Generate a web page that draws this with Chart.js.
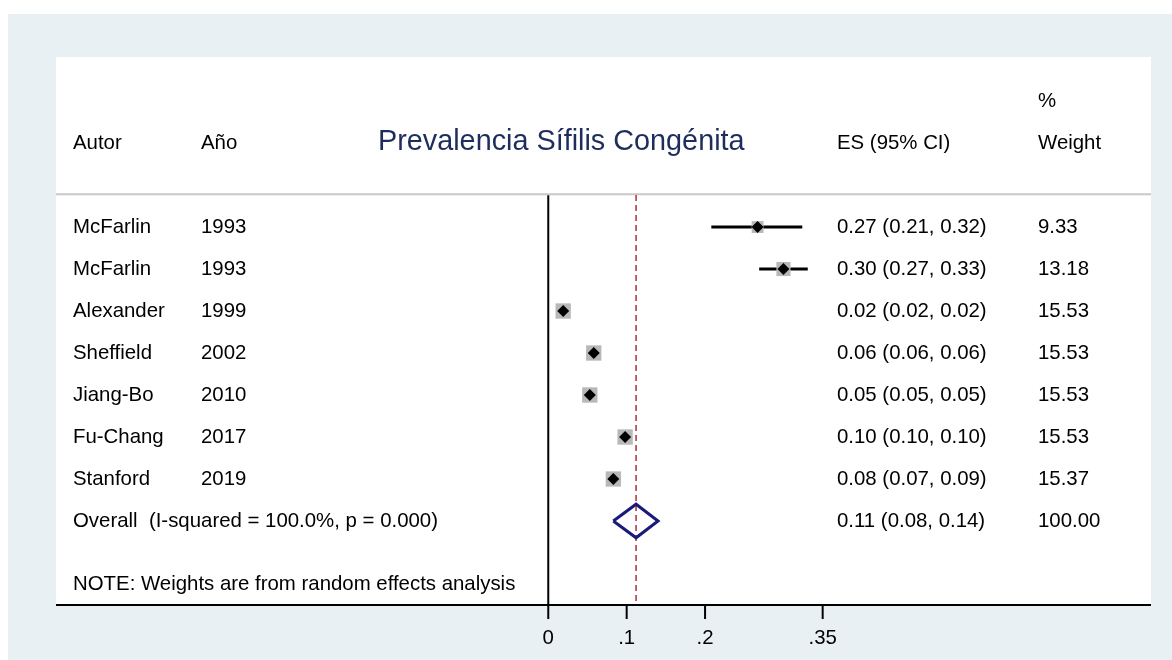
<!DOCTYPE html>
<html>
<head>
<meta charset="utf-8">
<script src="https://cdn.jsdelivr.net/npm/chart.js@4"></script>
<style>
  html, body { margin: 0; padding: 0; background: #ffffff; }
  canvas { display: block; }
</style>
</head>
<body>
<canvas id="forest" width="1172" height="660"></canvas>
<script>
// dati dello studio
const authors = ['McFarlin', 'McFarlin', 'Alexander', 'Sheffield', 'Jiang-Bo', 'Fu-Chang', 'Stanford'];
const years = ['1993', '1993', '1999', '2002', '2010', '2017', '2019'];
const es = [0.267, 0.300, 0.019, 0.058, 0.053, 0.098, 0.083];
const ciLow = [0.208, 0.269, 0.019, 0.058, 0.053, 0.098, 0.074];
const ciHigh = [0.324, 0.331, 0.019, 0.058, 0.053, 0.098, 0.092];
const weights = [9.33, 13.18, 15.53, 15.53, 15.53, 15.53, 15.37];

const overallEs = 0.112;
const overallLow = 0.083;
const overallHigh = 0.140;
const overallWeight = 100.00;
const overallLabel = 'Overall  (I-squared = 100.0%, p = 0.000)';

const xTicks = [0, 0.1, 0.2, 0.35];
const xTickLabels = ['0', '.1', '.2', '.35'];

const titleText = 'Prevalencia Sífilis Congénita';
const noteText = 'NOTE: Weights are from random effects analysis';

const FONT = '"Liberation Sans", Arial, sans-serif';
const overallRow = authors.length;

function fmt(v) { return v.toFixed(2); }

// linee degli intervalli di confidenza, separate da punti vuoti
const ciData = [];
authors.forEach((a, i) => {
    ciData.push({ x: ciLow[i], y: i });
    ciData.push({ x: ciHigh[i], y: i });
    ciData.push({ x: null, y: null });
});

const pointData = es.map((v, i) => ({ x: v, y: i }));
const diamondH = 0.4;
const diamondData = [
    { x: overallLow, y: overallRow },
    { x: overallEs, y: overallRow - diamondH },
    { x: overallHigh, y: overallRow },
    { x: overallEs, y: overallRow + diamondH },
    { x: overallLow, y: overallRow }
];

// sfondo, pannello, assi e testo delle colonne
const forestDecor = {
    id: 'forestDecor',
    beforeDraw(chart) {
        const ctx = chart.ctx;
        const a = chart.chartArea;
        ctx.save();
        ctx.fillStyle = '#ffffff';
        ctx.fillRect(0, 0, chart.width, chart.height);
        ctx.fillStyle = '#e9f0f3';
        ctx.fillRect(8, 14, chart.width - 8, chart.height - 14);
        ctx.fillStyle = '#ffffff';
        ctx.fillRect(a.left, a.top, a.right - a.left, a.bottom - a.top);
        ctx.restore();
    },
    beforeDatasetsDraw(chart) {
        const ctx = chart.ctx;
        const a = chart.chartArea;
        const xs = chart.scales.x;
        const ys = chart.scales.y;
        const sepY = ys.getPixelForValue(-0.78);
        ctx.save();
        // separatore grigio sotto l'intestazione
        ctx.strokeStyle = '#c8c8c8';
        ctx.lineWidth = 2;
        ctx.beginPath();
        ctx.moveTo(a.left, sepY);
        ctx.lineTo(a.right, sepY);
        ctx.stroke();
        // linea dello zero
        const x0 = xs.getPixelForValue(0);
        ctx.strokeStyle = '#000000';
        ctx.lineWidth = 2;
        ctx.beginPath();
        ctx.moveTo(x0, sepY + 1);
        ctx.lineTo(x0, a.bottom);
        ctx.stroke();
        ctx.restore();
    },
    afterDatasetsDraw(chart) {
        const ctx = chart.ctx;
        const a = chart.chartArea;
        const xs = chart.scales.x;
        const ys = chart.scales.y;
        ctx.save();
        // asse x
        ctx.strokeStyle = '#000000';
        ctx.lineWidth = 2;
        ctx.beginPath();
        ctx.moveTo(a.left, a.bottom);
        ctx.lineTo(a.right, a.bottom);
        ctx.stroke();
        ctx.fillStyle = '#000000';
        ctx.font = '20.4px ' + FONT;
        ctx.textAlign = 'center';
        ctx.textBaseline = 'middle';
        xTicks.forEach((t, i) => {
            const px = xs.getPixelForValue(t);
            ctx.beginPath();
            ctx.moveTo(px, a.bottom);
            ctx.lineTo(px, a.bottom + 14);
            ctx.stroke();
            ctx.fillText(xTickLabels[i], px, a.bottom + 33);
        });

        // intestazioni
        const colAutor = 73, colYear = 201, colEs = 837, colW = 1038;
        ctx.textAlign = 'left';
        const hY = ys.getPixelForValue(-1.98);
        ctx.fillText('Autor', colAutor, hY);
        ctx.fillText('Año', colYear, hY);
        ctx.fillText('ES (95% CI)', colEs, hY);
        ctx.fillText('Weight', colW, hY);
        ctx.fillText('%', colW, ys.getPixelForValue(-2.98));
        ctx.fillStyle = '#1e2d5c';
        ctx.font = '28.8px ' + FONT;
        ctx.fillText(titleText, 378, ys.getPixelForValue(-2.03));

        // righe degli studi
        ctx.fillStyle = '#000000';
        ctx.font = '20.4px ' + FONT;
        authors.forEach((name, i) => {
            const py = ys.getPixelForValue(i + 0.02);
            ctx.fillText(name, colAutor, py);
            ctx.fillText(years[i], colYear, py);
            ctx.fillText(fmt(es[i]) + ' (' + fmt(ciLow[i]) + ', ' + fmt(ciHigh[i]) + ')', colEs, py);
            ctx.fillText(weights[i].toFixed(2), colW, py);
        });
        const oy = ys.getPixelForValue(overallRow + 0.02);
        ctx.fillText(overallLabel, colAutor, oy);
        ctx.fillText(fmt(overallEs) + ' (' + fmt(overallLow) + ', ' + fmt(overallHigh) + ')', colEs, oy);
        ctx.fillText(overallWeight.toFixed(2), colW, oy);
        ctx.fillText(noteText, colAutor, ys.getPixelForValue(8.5));
        ctx.restore();
    }
};

new Chart(document.getElementById('forest'), {
    type: 'scatter',
    data: {
        datasets: [
            {
                label: 'ES',
                data: pointData,
                pointStyle: 'rectRot',
                pointRadius: 6,
                backgroundColor: '#000000',
                borderWidth: 0,
                order: 1
            },
            {
                label: 'Weight',
                data: pointData,
                pointStyle: 'rect',
                pointRadius: weights.map(w => 2.75 * Math.sqrt(w)),
                backgroundColor: '#b8b8b8',
                borderWidth: 0,
                order: 2
            },
            {
                type: 'line',
                label: 'CI',
                data: ciData,
                borderColor: '#000000',
                borderWidth: 3,
                pointRadius: 0,
                spanGaps: false,
                fill: false,
                order: 3
            },
            {
                type: 'line',
                label: 'Overall',
                data: diamondData,
                borderColor: '#1a1a78',
                borderWidth: 3,
                pointRadius: 0,
                fill: false,
                tension: 0,
                order: 1
            },
            {
                type: 'line',
                label: 'Overall ES',
                data: [{ x: overallEs, y: -0.76 }, { x: overallEs, y: 9 }],
                borderColor: '#a8323e',
                borderWidth: 1.5,
                borderDash: [6, 4],
                pointRadius: 0,
                fill: false,
                order: 4
            }
        ]
    },
    options: {
        responsive: false,
        devicePixelRatio: 1,
        animation: false,
        layout: { padding: { left: 56, right: 21, top: 57, bottom: 55 } },
        scales: {
            x: { type: 'linear', min: -0.6279, max: 0.7688, display: false },
            y: { type: 'linear', min: -4.048, max: 9, reverse: true, display: false }
        },
        plugins: {
            legend: { display: false },
            tooltip: { enabled: false }
        }
    },
    plugins: [forestDecor]
});
</script>
</body>
</html>
